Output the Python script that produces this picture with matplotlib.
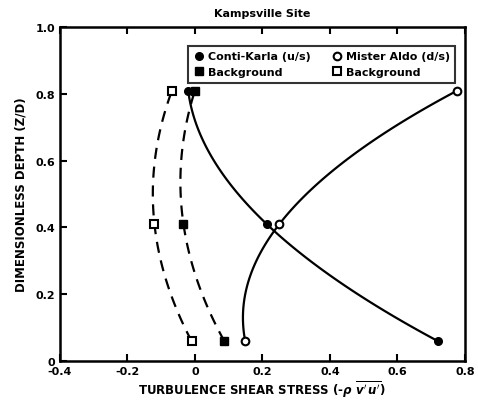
import numpy as np
import matplotlib
matplotlib.use("Agg")
import matplotlib.pyplot as plt

# Data
depth = [0.81, 0.41, 0.06]
conti_karla = [-0.02, 0.213, 0.72]      # filled circles, solid
mister_aldo = [0.778, 0.25, 0.149]      # open circles, solid (depth order 0.81, 0.41, 0.06)
bg_filled = [0.0, -0.034, 0.087]        # filled squares, dashed
bg_open = [-0.068, -0.12, -0.01]        # open squares, dashed

xticks = [-0.4, -0.2, 0, 0.2, 0.4, 0.6, 0.8]
xticklabels = ["-0.4", "-0.2", "0", "0.2", "0.4", "0.6", "0.8"]
yticks = [0, 0.2, 0.4, 0.6, 0.8, 1.0]
yticklabels = ["0", "0.2", "0.4", "0.6", "0.8", "1.0"]

plt.rcParams['font.family'] = ['DejaVu Sans']
plt.rcParams['font.weight'] = 'bold'

fig = plt.figure(figsize=(4.78, 4.06), dpi=100)
ax = fig.add_axes([0.1255, 0.108, 0.847, 0.823])


def smooth(xs, ys):
    c = np.polyfit(ys, xs, 2)
    yy = np.linspace(min(ys), max(ys), 100)
    return np.polyval(c, yy), yy


lw = 1.6
for xs, ls in [(conti_karla, '-'), (mister_aldo, '-'), (bg_filled, (0, (5, 3.5))), (bg_open, (0, (5, 3.5)))]:
    cx, cy = smooth(xs, depth)
    ax.plot(cx, cy, color='black', lw=lw, ls=ls, zorder=2)

ms = 5.5
ax.plot(conti_karla, depth, 'o', color='black', ms=ms, ls='none', label='Conti-Karla (u/s)', zorder=3)
ax.plot(bg_filled, depth, 's', color='black', ms=ms, ls='none', label='Background', zorder=3)
ax.plot(mister_aldo, depth, 'o', mfc='white', mec='black', mew=1.5, ms=ms, ls='none', label='Mister Aldo (d/s)', zorder=3)
ax.plot(bg_open, depth, 's', mfc='white', mec='black', mew=1.5, ms=ms, ls='none', label='Background', zorder=3)

ax.set_xlim(-0.4, 0.8)
ax.set_ylim(0, 1.0)
ax.set_xticks(xticks)
ax.set_xticklabels(xticklabels, fontsize=8, fontweight='bold')
ax.set_yticks(yticks)
ax.set_yticklabels(yticklabels, fontsize=8, fontweight='bold')
ax.tick_params(axis='both', direction='in', length=5, width=1.5, top=True, right=False)
for s in ax.spines.values():
    s.set_linewidth(1.8)

ax.set_xlabel(r"TURBULENCE SHEAR STRESS (-$\rho\ \overline{v'\,u'}$)", fontsize=8.5, fontweight='bold', labelpad=2)
ax.set_ylabel("DIMENSIONLESS DEPTH (Z/D)", fontsize=8.5, fontweight='bold', labelpad=6)
ax.set_title("Kampsville Site", fontsize=8, fontweight='bold', pad=8)

leg = ax.legend(ncol=2, loc='upper right', bbox_to_anchor=(0.99, 0.96), fontsize=8,
                frameon=True, fancybox=False, edgecolor='black', handletextpad=0.3,
                columnspacing=1.8, borderpad=0.5, labelspacing=0.5, handlelength=1.0,
                prop={'weight': 'bold', 'size': 8})
leg.get_frame().set_linewidth(1.5)

fig.savefig("out.png", dpi=100)
